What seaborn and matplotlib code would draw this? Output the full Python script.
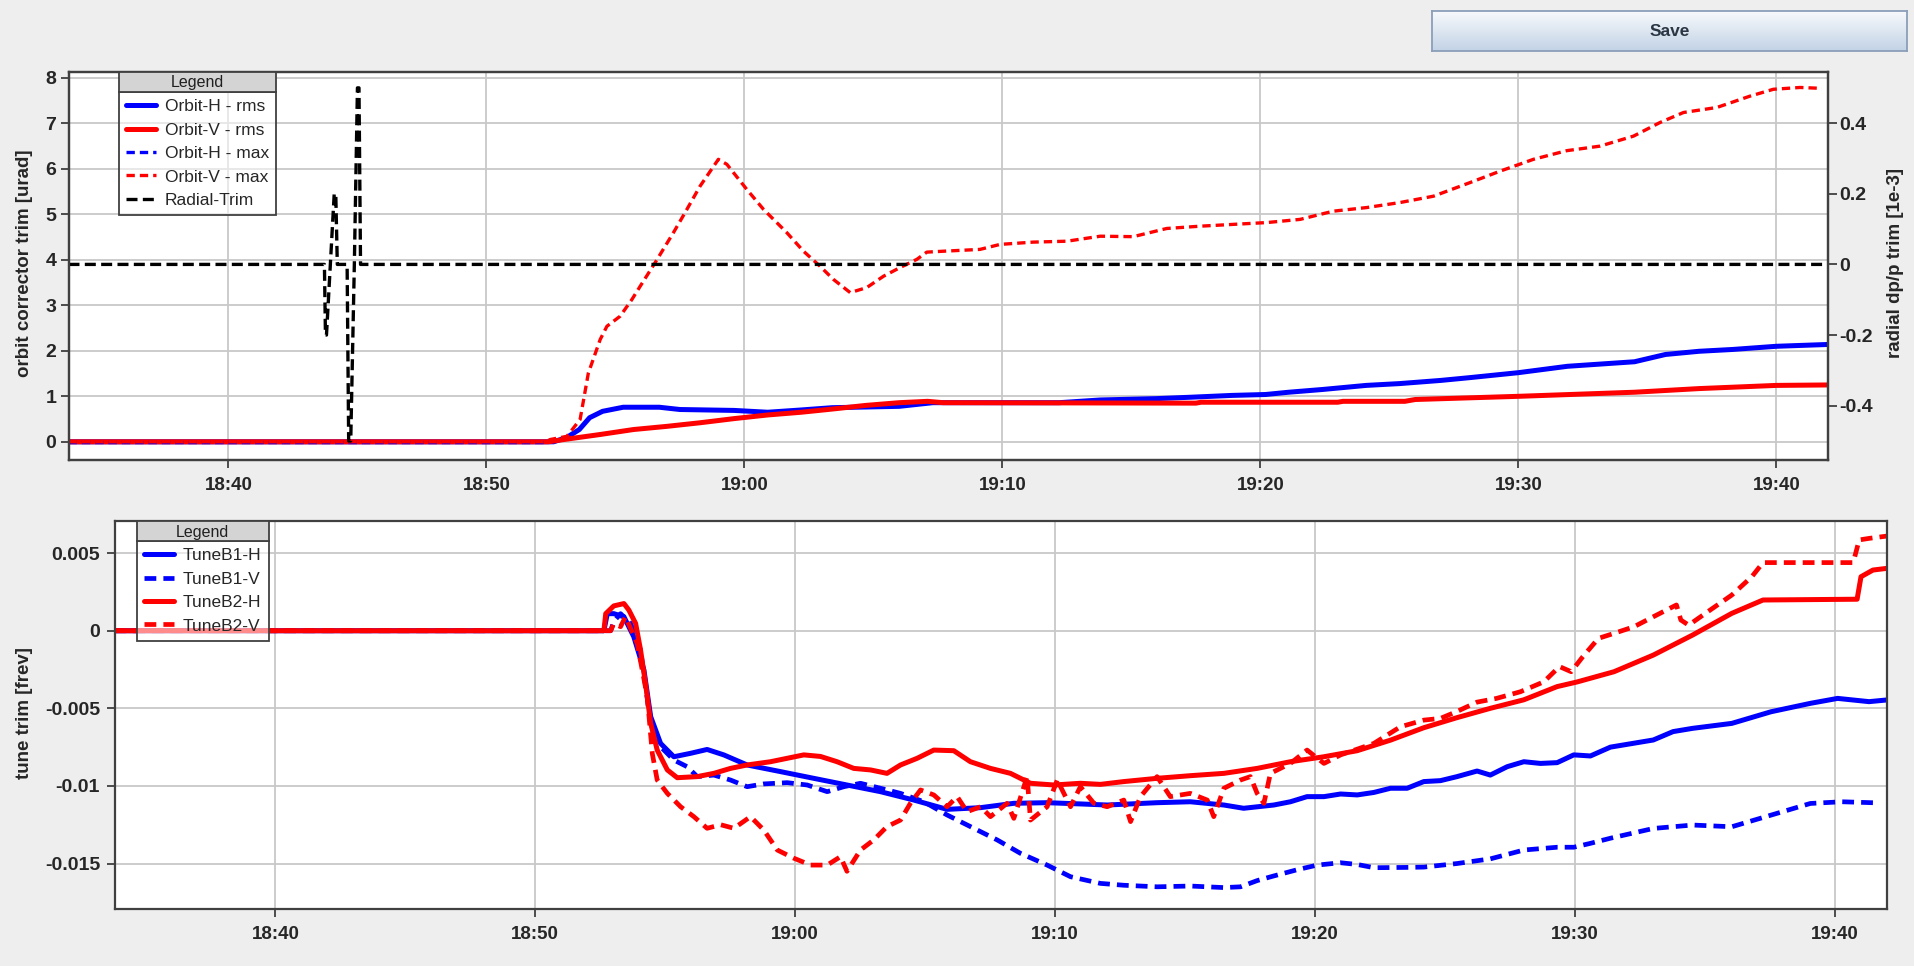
import numpy as np
import matplotlib
matplotlib.use('Agg')
import matplotlib.pyplot as plt
import matplotlib.ticker as mticker
from matplotlib.colors import LinearSegmentedColormap
import seaborn as sns

# --- GLOBAL STYLE ---
sns.set_style("whitegrid")
plt.rcParams['font.family'] = ['Liberation Sans', 'DejaVu Sans']
plt.rcParams['font.weight'] = 'bold'
plt.rcParams['axes.labelweight'] = 'bold'

# --- DATA (time = minutes after 18:00) ---
x_range = (33.82, 102.0)
time_ticks = [40, 50, 60, 70, 80, 90, 100]
orbit_ticks = [0, 1, 2, 3, 4, 5, 6, 7, 8]
radial_ticks = [-0.4, -0.2, 0, 0.2, 0.4]
tune_ticks = [-0.015, -0.01, -0.005, 0, 0.005]

# orbit corrector trims [urad]
orbit_h_rms = [(33.8, 0), (52.6, 0), (53.1, 0.09), (53.6, 0.27), (54.0, 0.53), (54.5, 0.67), (55.3, 0.76),
               (56.7, 0.76), (57.5, 0.71), (59.6, 0.69), (60.9, 0.65), (62.2, 0.70), (63.4, 0.75), (66.0, 0.78),
               (67.3, 0.86), (72.2, 0.86), (73.8, 0.92), (76.0, 0.95), (77.3, 0.98), (78.9, 1.02), (80.2, 1.04),
               (81.1, 1.09), (82.4, 1.15), (84.1, 1.24), (85.4, 1.28), (87.0, 1.35), (88.1, 1.41), (90.0, 1.52),
               (91.9, 1.66), (94.5, 1.76), (95.7, 1.92), (97.0, 1.99), (98.3, 2.03), (100.0, 2.10), (102.0, 2.14)]
orbit_v_rms = [(33.8, 0), (52.4, 0), (53.0, 0.05), (54.4, 0.16), (55.7, 0.27), (57.0, 0.34), (58.3, 0.42),
               (59.6, 0.51), (60.9, 0.59), (62.2, 0.65), (63.4, 0.72), (64.7, 0.80), (66.0, 0.86), (67.1, 0.89),
               (67.7, 0.86), (77.5, 0.85), (77.7, 0.87), (83.0, 0.87), (83.2, 0.89), (85.6, 0.89), (86.0, 0.93),
               (90.0, 1.00), (94.5, 1.09), (97.0, 1.17), (100.0, 1.24), (102.0, 1.25)]
orbit_h_max = [(33.8, 0), (52.4, 0)]
orbit_v_max = [(33.8, 0), (52.3, 0), (52.47, 0.05), (53.12, 0.12), (53.63, 0.49), (53.95, 1.51), (54.41, 2.25),
               (54.67, 2.54), (55.18, 2.76), (55.64, 3.13), (55.96, 3.42), (56.54, 3.94), (57.25, 4.60),
               (57.70, 5.04), (58.28, 5.62), (58.99, 6.21), (59.32, 6.10), (60.09, 5.55), (60.74, 5.11),
               (61.64, 4.60), (62.29, 4.19), (62.93, 3.86), (63.45, 3.57), (64.10, 3.28), (64.74, 3.39),
               (65.39, 3.64), (66.03, 3.83), (66.68, 4.01), (67.07, 4.17), (67.71, 4.19), (69.13, 4.23),
               (69.91, 4.34), (71.19, 4.39), (72.5, 4.41), (73.79, 4.52), (75.07, 4.51), (76.37, 4.69),
               (77.66, 4.74), (78.94, 4.78), (80.25, 4.82), (81.54, 4.89), (82.82, 5.07), (84.12, 5.15),
               (85.41, 5.26), (86.71, 5.40), (88.13, 5.70), (89.29, 5.95), (90.58, 6.21), (91.87, 6.40),
               (93.16, 6.50), (94.46, 6.72), (95.49, 7.02), (96.40, 7.24), (97.69, 7.35), (98.98, 7.60),
               (99.88, 7.75), (100.92, 7.79), (101.76, 7.77)]
# radial dp/p trim [1e-3]
radial_trim = [(33.8, 0), (43.72, 0), (43.76, -0.2), (43.80, -0.2), (43.95, 0), (44.10, 0.2), (44.16, 0.2),
               (44.22, 0), (44.60, 0), (44.66, -0.5), (44.74, -0.5), (44.88, 0), (45.00, 0.5), (45.06, 0.5),
               (45.12, 0), (102.0, 0)]

# tune trims [1e-3 frev]
tune_b1h = [(33.8, 0), (52.64, 0), (52.77, 1.1), (53.02, 1.1), (53.41, 0.9), (53.79, -0.39), (54.18, -2.54),
            (54.44, -5.54), (54.82, -7.26), (55.33, -8.12), (55.97, -7.9), (56.61, -7.65), (57.25, -8.0),
            (58.15, -8.65), (59.44, -9.08), (60.71, -9.51), (61.99, -9.94), (63.28, -10.37), (64.56, -10.91),
            (65.84, -11.51), (67.13, -11.40), (68.41, -11.12), (69.69, -11.08), (70.97, -11.16), (72.0, -11.23),
            (73.92, -11.08), (75.2, -11.02), (76.49, -11.23), (77.25, -11.44), (78.41, -11.23), (79.05, -11.02),
            (79.69, -10.69), (80.34, -10.69), (80.98, -10.52), (81.62, -10.58), (82.26, -10.42), (82.9, -10.15),
            (83.54, -10.15), (84.18, -9.72), (84.82, -9.66), (85.46, -9.40), (86.23, -9.04), (86.74, -9.3),
            (87.39, -8.76), (88.03, -8.44), (88.67, -8.55), (89.31, -8.5), (89.95, -8.0), (90.59, -8.07),
            (91.36, -7.5), (93.01, -7.04), (93.77, -6.5), (94.52, -6.29), (96.03, -5.97), (97.54, -5.22),
            (99.05, -4.68), (100.1, -4.36), (101.31, -4.57), (102.0, -4.46)]
tune_b1v = [(33.8, 0), (52.9, 0), (53.02, 0.6), (53.28, 1.1), (53.67, 0.47), (54.05, -1.25), (54.44, -5.97),
            (54.82, -7.47), (55.33, -8.33), (55.84, -8.76), (56.23, -9.40), (56.87, -9.3), (57.51, -9.62),
            (58.15, -10.05), (58.79, -9.87), (59.69, -9.79), (60.46, -9.94), (61.23, -10.37), (61.87, -10.05),
            (62.51, -9.83), (63.28, -10.15), (64.05, -10.48), (64.95, -11.02), (65.84, -11.87), (66.87, -12.73),
            (67.77, -13.48), (68.66, -14.34), (69.69, -15.1), (70.59, -15.85), (71.74, -16.28), (72.64, -16.4),
            (73.92, -16.5), (75.2, -16.45), (76.49, -16.55), (77.13, -16.5), (77.77, -16.1), (78.41, -15.8),
            (79.31, -15.4), (80.08, -15.1), (80.98, -14.95), (81.62, -15.06), (82.26, -15.27), (83.5, -15.25),
            (84.18, -15.23), (85.46, -15.0), (86.74, -14.7), (88.03, -14.13), (89.31, -13.95), (89.95, -13.95),
            (90.59, -13.7), (91.36, -13.37), (93.01, -12.74), (94.52, -12.52), (96.03, -12.63), (97.54, -11.88),
            (99.05, -11.13), (100.26, -11.02), (101.6, -11.09)]
tune_b2h = [(33.8, 0), (52.64, 0), (52.71, 1.1), (53.02, 1.6), (53.41, 1.75), (53.60, 1.33), (53.86, 0.47),
            (54.05, -1.25), (54.24, -3.4), (54.44, -5.97), (54.69, -7.69), (55.08, -8.97), (55.46, -9.47),
            (56.23, -9.40), (56.87, -9.19), (57.51, -8.87), (58.15, -8.65), (59.05, -8.44), (59.69, -8.22),
            (60.33, -8.0), (60.97, -8.1), (61.61, -8.44), (62.25, -8.87), (62.90, -8.97), (63.53, -9.19),
            (64.05, -8.65), (64.69, -8.22), (65.33, -7.69), (66.10, -7.73), (66.74, -8.44), (67.51, -8.87),
            (68.28, -9.19), (69.05, -9.83), (69.95, -9.94), (70.97, -9.83), (71.74, -9.9), (72.64, -9.72),
            (73.92, -9.51), (75.2, -9.34), (76.49, -9.19), (77.77, -8.87), (79.05, -8.44), (80.34, -8.12),
            (81.62, -7.73), (82.9, -7.05), (84.18, -6.25), (85.46, -5.6), (86.74, -5.0), (88.03, -4.45),
            (89.31, -3.6), (90.08, -3.3), (91.5, -2.64), (93.01, -1.57), (94.52, -0.28), (96.03, 1.12),
            (97.23, 1.98), (100.85, 2.03), (101.0, 3.48), (101.46, 3.91), (102.0, 4.02)]
tune_b2v = [(33.8, 0), (52.9, 0), (53.02, 0.47), (53.28, 0.26), (53.47, 0.9), (53.92, -0.82), (54.31, -4.26),
            (54.50, -7.9), (54.69, -9.62), (55.08, -10.48), (55.59, -11.34), (56.10, -11.98), (56.61, -12.73),
            (57.13, -12.5), (57.64, -12.73), (58.28, -11.98), (58.79, -12.84), (59.31, -14.13), (59.95, -14.66),
            (60.59, -15.1), (61.23, -15.1), (61.74, -14.56), (61.99, -15.5), (62.51, -14.13), (63.02, -13.48),
            (63.53, -12.62), (64.05, -12.2), (64.43, -11.12), (64.82, -10.26), (65.33, -10.58), (65.84, -11.34),
            (66.23, -10.69), (66.61, -11.66), (67.13, -11.34), (67.51, -11.98), (68.15, -11.12), (68.41, -12.09),
            (68.92, -9.40), (69.05, -12.2), (69.69, -11.34), (70.08, -9.62), (70.59, -11.34), (70.97, -10.05),
            (71.49, -11.12), (72.0, -11.34), (72.64, -10.91), (72.9, -12.3), (73.28, -10.69), (73.92, -9.40),
            (74.43, -10.69), (75.2, -10.48), (75.85, -10.91), (76.1, -11.98), (76.49, -10.15), (77.13, -9.62),
            (77.51, -9.40), (77.77, -10.48), (78.03, -11.12), (78.28, -9.19), (79.05, -8.55), (79.69, -7.69),
            (80.34, -8.55), (80.98, -8.0), (82.26, -7.26), (83.28, -6.19), (84.18, -5.76), (84.82, -5.65),
            (85.46, -5.2), (86.23, -4.6), (86.98, -4.36), (87.9, -3.93), (88.8, -3.29), (89.4, -2.31),
            (89.85, -2.64), (90.3, -1.67), (90.9, -0.49), (91.5, -0.17), (92.27, 0.26), (93.01, 0.9),
            (93.77, 1.55), (93.9, 1.66), (94.07, 0.69), (94.37, 0.36), (95.1, 1.22), (96.03, 2.3), (96.8, 3.48),
            (97.23, 4.39), (100.7, 4.39), (100.93, 5.85), (101.31, 5.95), (102.0, 6.1)]


def draw(ax, pairs, label, color, lw, dash=None, scale=1.0):
    t, v = zip(*pairs)
    kw = {'linestyle': (0, dash)} if dash else {}
    sns.lineplot(x=list(t), y=list(np.array(v) * scale), ax=ax, color=color, linewidth=lw,
                 label=label, estimator=None, sort=False, legend=False, **kw)


def time_fmt(m, _):
    m = int(round(m))
    return f"{18 + m // 60}:{m % 60:02d}"


def style_axes(ax):
    ax.set_facecolor('white')
    for s in ax.spines.values():
        s.set_color('#404040')
        s.set_linewidth(1.6)
    ax.grid(True, color='#c8c8c8', linewidth=1.3)
    ax.set_xlim(*x_range)
    ax.xaxis.set_major_locator(mticker.FixedLocator(time_ticks))
    ax.xaxis.set_major_formatter(mticker.FuncFormatter(time_fmt))
    ax.tick_params(axis='x', bottom=True, length=6, width=1.3, color='#404040', labelsize=13.5, pad=6)
    ax.set_xlabel('')


def make_legend(ax, handles, labels, x_frac):
    leg = ax.legend(handles, labels, loc='upper left', bbox_to_anchor=(x_frac, 1 - 20 / 388),
                    borderaxespad=0, fancybox=False, prop={'size': 12.5, 'weight': 'normal'},
                    handlelength=1.75, handletextpad=0.5, labelspacing=0.48, borderpad=0.4)
    fr = leg.get_frame()
    fr.set_alpha(None)
    fr.set_facecolor((1, 1, 1, 0.55))
    fr.set_edgecolor('#404040')
    fr.set_linewidth(1.3)
    return leg


W, H = 1915, 966
fig = plt.figure(figsize=(W / 100, H / 100), dpi=100, facecolor='#eeeeee')
ax_top = fig.add_axes([69 / W, 1 - 460 / H, (1828 - 69) / W, 388 / H])
ax_rad = ax_top.twinx()
ax_bot = fig.add_axes([114.7 / W, 1 - 909 / H, (1887 - 114.7) / W, 388 / H])

# 🔹 Orbit corrector panel
draw(ax_top, orbit_h_rms, 'Orbit-H - rms', 'blue', 3.6)
draw(ax_top, orbit_v_rms, 'Orbit-V - rms', 'red', 3.6)
draw(ax_top, orbit_h_max, 'Orbit-H - max', 'blue', 2.4, (2.5, 1.5))
draw(ax_top, orbit_v_max, 'Orbit-V - max', 'red', 2.4, (2.5, 1.5))
draw(ax_rad, radial_trim, 'Radial-Trim', 'black', 2.4, (3.3, 1.6))

style_axes(ax_top)
ax_top.set_ylim(-0.40, 8.13)
ax_top.set_yticks(orbit_ticks)
ax_top.tick_params(axis='y', left=True, length=6, width=1.3, color='#404040', labelsize=14, pad=3)
ax_top.set_ylabel('orbit corrector trim [urad]', fontsize=13.5)
ax_top.yaxis.set_label_coords(-0.0205, 0.507)

ax_rad.grid(False)
ax_rad.set_ylim(-0.554, 0.545)
ax_rad.set_yticks(radial_ticks)
ax_rad.yaxis.set_major_formatter(mticker.FuncFormatter(lambda v, _: f"{v:g}"))
ax_rad.tick_params(axis='y', right=True, left=False, length=6.5, width=1.3, color='#404040',
                   labelsize=14, pad=1.5)
for s in ax_rad.spines.values():
    s.set_color('#404040')
    s.set_linewidth(1.6)
ax_rad.set_ylabel('radial dp/p trim [1e-3]', fontsize=13.5)
ax_rad.yaxis.set_label_coords(1.0335, 0.507)

h1, l1 = ax_top.get_legend_handles_labels()
h2, l2 = ax_rad.get_legend_handles_labels()
leg_top = make_legend(ax_rad, h1 + h2, l1 + l2, (119 - 69) / 1759)

# 🔹 Tune panel
draw(ax_bot, tune_b1h, 'TuneB1-H', 'blue', 3.6, scale=1e-3)
draw(ax_bot, tune_b1v, 'TuneB1-V', 'blue', 3.4, (2.5, 1.5), scale=1e-3)
draw(ax_bot, tune_b2h, 'TuneB2-H', 'red', 3.6, scale=1e-3)
draw(ax_bot, tune_b2v, 'TuneB2-V', 'red', 3.4, (2.5, 1.5), scale=1e-3)

style_axes(ax_bot)
ax_bot.set_ylim(-0.01793, 0.00707)
ax_bot.set_yticks(tune_ticks)
ax_bot.yaxis.set_major_formatter(mticker.FuncFormatter(lambda v, _: f"{v:g}"))
ax_bot.tick_params(axis='y', left=True, length=6, width=1.3, color='#404040', labelsize=14, pad=4.5)
ax_bot.set_ylabel('tune trim [frev]', fontsize=13.5)
ax_bot.yaxis.set_label_coords(-0.0461, 0.504)
hb, lb = ax_bot.get_legend_handles_labels()
leg_bot = make_legend(ax_bot, hb, lb, (137 - 114.7) / 1772.3)

# --- legend header bars ---
fig.canvas.draw()
for leg, ax in ((leg_top, ax_top), (leg_bot, ax_bot)):
    fb = leg.get_frame().get_window_extent()
    ab = ax.get_window_extent()
    hx = fig.add_axes([fb.x0 / W, fb.y1 / H, fb.width / W, (ab.y1 - fb.y1) / H])
    hx.set_facecolor('#d4d4d4')
    hx.grid(False)
    hx.set_xticks([])
    hx.set_yticks([])
    for s in hx.spines.values():
        s.set_color('#404040')
        s.set_linewidth(1.3)
    hx.text(0.5, 0.45, 'Legend', ha='center', va='center', fontsize=11.5, fontweight='normal',
            color='#202020', transform=hx.transAxes)

# --- Save button ---
bx = fig.add_axes([1432 / W, 1 - 51 / H, 475 / W, 40 / H])
grad = np.linspace(0, 1, 64).reshape(-1, 1)
bx.imshow(grad, aspect='auto', extent=[0, 1, 0, 1], origin='upper',
          cmap=LinearSegmentedColormap.from_list('btn', ['#f7f9fc', '#c3d3e6']))
bx.grid(False)
bx.set_xticks([])
bx.set_yticks([])
for s in bx.spines.values():
    s.set_color('#8a9fb8')
    s.set_linewidth(1.3)
bx.text(0.5, 0.5, 'Save', ha='center', va='center', fontsize=12.5, fontweight='bold',
        color='#2b3645', transform=bx.transAxes)

fig.savefig("out.png", dpi=100, facecolor=fig.get_facecolor())
